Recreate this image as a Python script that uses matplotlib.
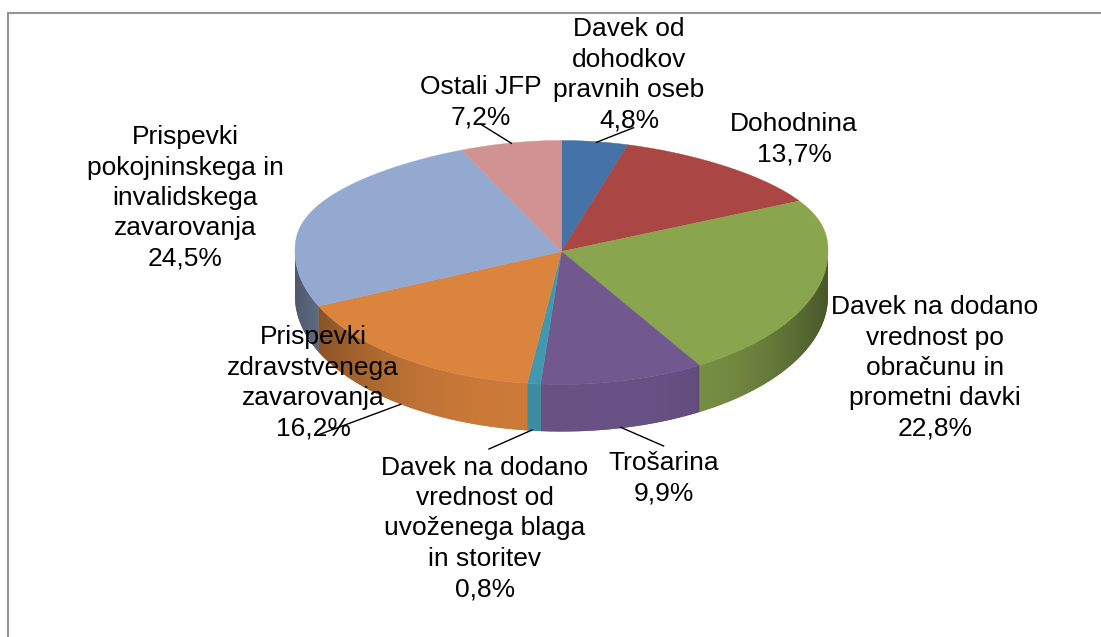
import numpy as np
import matplotlib
matplotlib.use("Agg")
import matplotlib.pyplot as plt
from matplotlib.patches import Polygon

plt.rcParams['font.family'] = ['Liberation Sans', 'DejaVu Sans']

# ---- data ----
categories = ["Davek od\ndohodkov\npravnih oseb", "Dohodnina",
              "Davek na dodano\nvrednost po\nobračunu in\nprometni davki",
              "Trošarina",
              "Davek na dodano\nvrednost od\nuvoženega blaga\nin storitev",
              "Prispevki\nzdravstvenega\nzavarovanja",
              "Prispevki\npokojninskega in\ninvalidskega\nzavarovanja",
              "Ostali JFP"]
values = [4.8, 13.7, 22.8, 9.9, 0.8, 16.2, 24.5, 7.2]
colors = ["#4572A7", "#AA4643", "#89A54E", "#71588F", "#4198AF", "#DB843D", "#93A9CF", "#D19392"]
label_x = [629, 794, 935, 664, 485, 313, 185, 481]
label_y = [75, 139.5, 368, 478, 528.5, 383, 198, 102]
leaders = [((596.4, 142.3), (633.6, 127.7)), None, None,
           ((620.7, 427.3), (663.6, 446)),
           ((532, 430), (489, 449)),
           ((400.7, 404.3), (317.9, 435)),
           None,
           ((511.4, 143.3), (480.4, 124))]

# ---- pie projection (Excel-like 3D perspective) ----
CX, CY, A, B_BACK, B_FRONT = 561.5, 251.5, 266.5, 111, 133


def project(theta):
    s, c = np.sin(theta), np.cos(theta)
    back = np.clip(c, 0, None)
    x = CX + A * s * (1 - 0.18 * back ** 2)
    y = CY - B_BACK * back ** 0.85 + B_FRONT * np.clip(-c, 0, None)
    return x, y


def depth(theta):
    return 45 + 2 * np.abs(np.cos(theta))


fig = plt.figure(figsize=(11.01, 6.37), dpi=100, facecolor="white")
ax = fig.add_axes([0, 0, 1, 1])
ax.set_xlim(0, 1101)
ax.set_ylim(637, 0)
ax.axis("off")

# frame (left and top only are visible)
ax.plot([8, 8, 1101], [637, 12.5, 12.5], color="#969696", lw=1.5, solid_joinstyle="miter")

fractions = np.array(values) / np.sum(values)
edges = np.concatenate([[0], np.cumsum(fractions)]) * 2 * np.pi

# side walls: smooth horizontal gradient clipped to each slice's wall
for col, t0, t1 in zip(colors, edges[:-1], edges[1:]):
    lo, hi = max(t0, np.pi / 2), min(t1, 3 * np.pi / 2)
    if hi <= lo:
        continue
    tt = np.linspace(lo, hi, 200)
    x, y = project(tt)
    d = depth(tt)
    verts = np.column_stack([np.r_[x, x[::-1]], np.r_[y, (y + d)[::-1]]])
    rgb = np.array(matplotlib.colors.to_rgb(col))
    xs = np.arange(np.floor(x.min()) - 1, np.ceil(x.max()) + 2)
    f = 0.93 - 0.40 * np.abs((xs - CX) / A) ** 3
    grad = (f[None, :, None] * rgb[None, None, :]).clip(0, 1)
    # antialiased base so the lower rim stays smooth, gradient on top
    mid = rgb * (0.93 - 0.40 * np.abs((x.mean() - CX) / A) ** 3)
    ax.add_patch(Polygon(verts, closed=True, fc=mid, ec="none", zorder=2))
    im = ax.imshow(grad, extent=[xs[0], xs[-1], y.max() + d.max() + 2, y.min() - 2],
                   aspect="auto", interpolation="bilinear", zorder=2.1)
    im.set_clip_path(Polygon(verts, closed=True, transform=ax.transData))

ax.set_xlim(0, 1101)
ax.set_ylim(637, 0)

# top surface
for col, t0, t1 in zip(colors, edges[:-1], edges[1:]):
    tt = np.linspace(t0, t1, 200)
    x, y = project(tt)
    ax.fill(np.r_[CX, x], np.r_[CY, y], color=col, lw=0.3, ec=col, zorder=3)

# leader lines
for seg in leaders:
    if seg is not None:
        ax.plot([seg[0][0], seg[1][0]], [seg[0][1], seg[1][1]], color="black", lw=1.0, zorder=4)

# labels
for name, val, lx, ly in zip(categories, values, label_x, label_y):
    txt = f"{name}\n{val:.1f}%".replace(".", ",")
    ax.text(lx, ly, txt, ha="center", va="center", fontsize=19, linespacing=1.34,
            color="black", zorder=5)

fig.savefig("out.png", dpi=100)
